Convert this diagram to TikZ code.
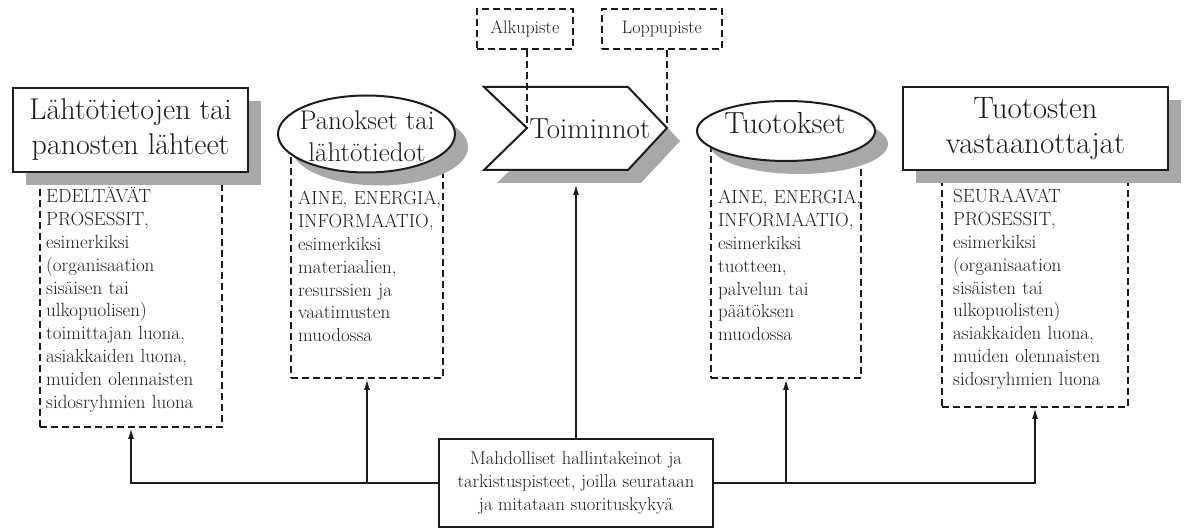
\documentclass[tikz,border=0pt]{standalone}
\usetikzlibrary{shapes.geometric,shadows,arrows.meta}
\definecolor{shadowgray}{HTML}{A8A8A8}
\definecolor{ink}{HTML}{1C1C1C}
\tikzset{
  grayshadow/.style={drop shadow={shadow xshift=13pt,shadow yshift=-13pt,opacity=1,fill=shadowgray}},
  titlebox/.style={draw=ink,line width=2.4pt,fill=white,inner sep=0pt,align=center,text=ink,grayshadow},
  ovalbox/.style={ellipse,draw=ink,line width=2pt,fill=white,inner sep=0pt,grayshadow},
  headtext/.style={text=ink,align=center,inner sep=0pt},
  dashbox/.style={draw=ink,line width=1.8pt,dash pattern=on 7pt off 4pt,inner sep=0pt,text=ink},
  bodytext/.style={text=ink,text width=178pt,align=left,inner sep=0pt,font=\fontsize{19}{22.8}\selectfont},
  ctrlarrow/.style={draw=ink,line width=1.8pt,-{Latex[length=11pt,width=6pt]}},
  dashlink/.style={draw=ink,line width=1.8pt,dash pattern=on 7pt off 4pt},
}
\begin{document}
\begin{tikzpicture}[x=1pt,y=-1pt]
  \useasboundingbox (0,0) rectangle (1187,529);
  % dashed frames, their tops hidden under the headings
  \node[dashbox,minimum width=182pt,minimum height=267pt] (srcframe) at (131,293.5) {};
  \node[dashbox,minimum width=152pt,minimum height=228pt] (inframe) at (367,264) {};
  \node[dashbox,minimum width=150pt,minimum height=236pt] (outframe) at (786,260) {};
  \node[dashbox,minimum width=186pt,minimum height=247pt] (rcvframe) at (1035,283.5) {};

  \node[bodytext,anchor=base west] (srctext) at (46,203) {EDELTÄVÄT\\PROSESSIT,\\esimerkiksi\\(organisaation\\sisäisen tai\\ulkopuolisen)\\toimittajan luona,\\asiakkaiden luona,\\muiden olennaisten\\sidosryhmien luona};
  \node[bodytext,anchor=base west] (intext) at (298,205) {AINE, ENERGIA,\\INFORMAATIO,\\esimerkiksi\\materiaalien,\\resurssien ja\\vaatimusten\\muodossa};
  \node[bodytext,anchor=base west] (outtext) at (718,204) {AINE, ENERGIA,\\INFORMAATIO,\\esimerkiksi\\tuotteen,\\palvelun tai\\päätöksen\\muodossa};
  \node[bodytext,anchor=base west] (rcvtext) at (953,203) {SEURAAVAT\\PROSESSIT,\\esimerkiksi\\(organisaation\\sisäisten tai\\ulkopuolisten)\\asiakkaiden luona,\\muiden olennaisten\\sidosryhmien luona};

  % headings
  \node[titlebox,minimum width=235pt,minimum height=84pt,font=\fontsize{30}{35}\selectfont] (src) at (130.5,130) {Lähtötietojen tai\\panosten lähteet};
  \node[ovalbox,minimum width=177pt,minimum height=77pt] (inoval) at (366.5,134) {};
  \node[headtext,font=\fontsize{27}{32}\selectfont] (in) at (367,136) {Panokset tai\\lähtötiedot};

  \coordinate (actnotch) at (527,128);
  \coordinate (acttip) at (667,128);
  \coordinate (actbase) at (576,184);
  \draw[draw=ink,line width=2pt,fill=white,grayshadow] (484,87) -- (628,87) -- (acttip) -- (628,170) -- (484,170) -- (actnotch) -- cycle;
  \node[headtext,font=\fontsize{29}{32}\selectfont] (act) at (590,129) {Toiminnot};

  \node[ovalbox,minimum width=178pt,minimum height=60pt] (outoval) at (786,131) {};
  \node[headtext,font=\fontsize{30.5}{34}\selectfont,anchor=base] (out) at (785,134) {Tuotokset};
  \node[titlebox,minimum width=265pt,minimum height=83pt,font=\fontsize{31}{35}\selectfont] (rcv) at (1035.5,128.5) {Tuotosten\\vastaanottajat};

  \node[dashbox,minimum width=96pt,minimum height=40pt,font=\fontsize{18}{20}\selectfont] (start) at (525,29) {Alkupiste};
  \node[dashbox,minimum width=120pt,minimum height=40pt,font=\fontsize{18}{20}\selectfont] (finish) at (662,29) {Loppupiste};
  \draw[dashlink] (actnotch |- start.south) -- (actnotch);
  \draw[dashlink] (acttip |- finish.south) -- (acttip);

  % controls
  \node[draw=ink,line width=2pt,minimum width=274pt,minimum height=88pt,align=center,text=ink,inner sep=0pt,
    font=\fontsize{18.5}{23}\selectfont] (ctrl) at (576,483) {Mahdolliset hallintakeinot ja\\tarkistuspisteet, joilla seurataan\\ja mitataan suorituskykyä};
  \draw[ctrlarrow] (ctrl.north) -- (actbase);
  \draw[ctrlarrow] (ctrl.west) -| (srcframe.south);
  \draw[ctrlarrow] (inframe.south |- ctrl.west) -- (inframe.south);
  \draw[ctrlarrow] (ctrl.east) -| (rcvframe.south);
  \draw[ctrlarrow] (outframe.south |- ctrl.east) -- (outframe.south);
\end{tikzpicture}
\end{document}
